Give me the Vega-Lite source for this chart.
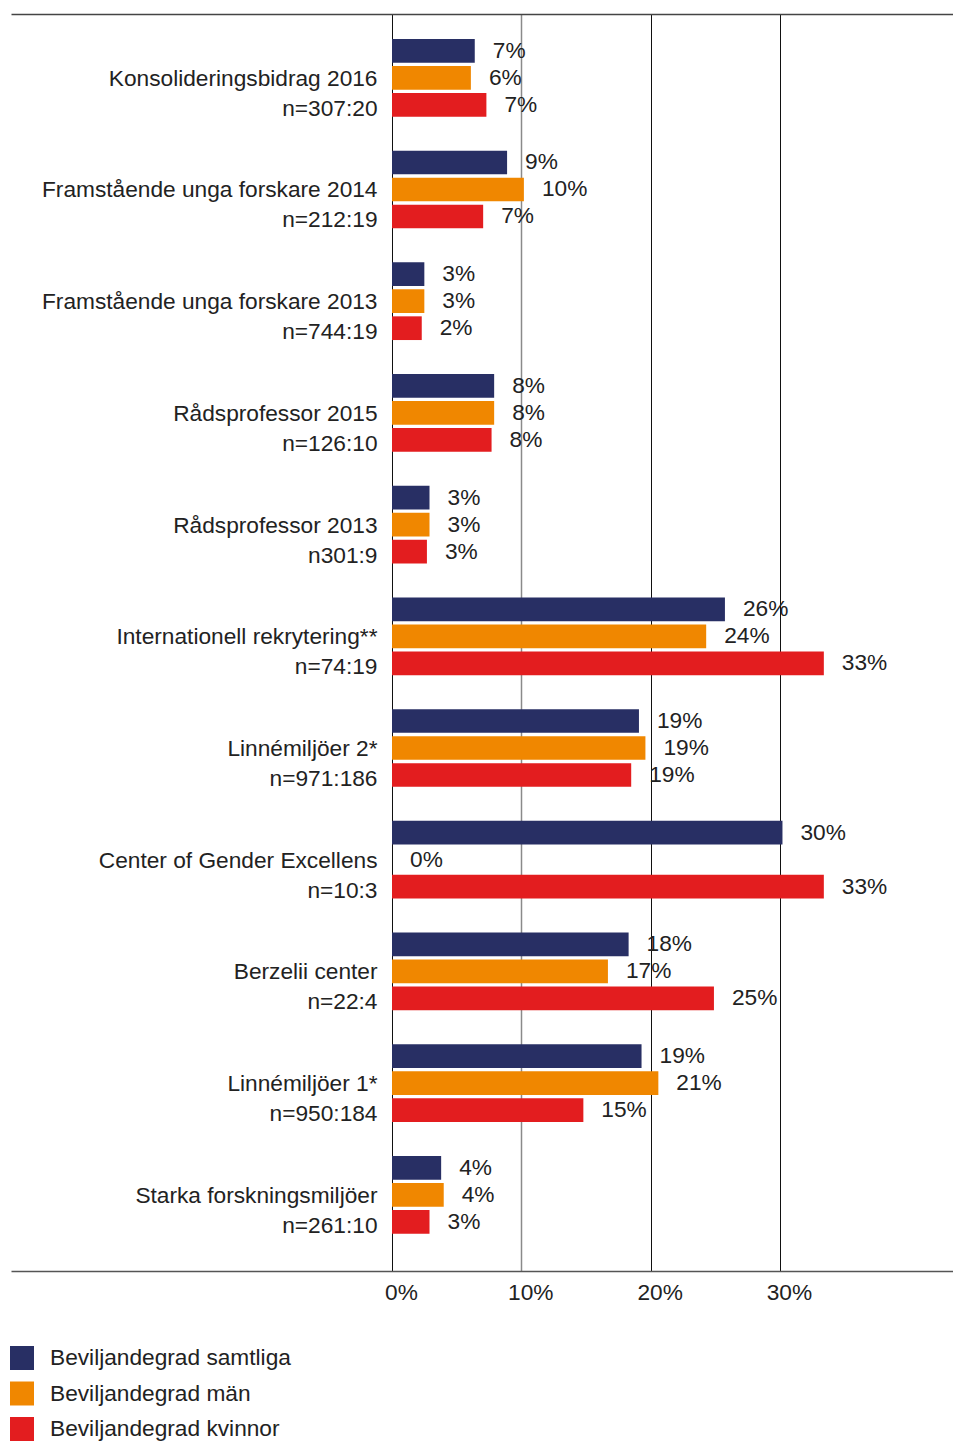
{
  "$schema": "https://vega.github.io/schema/vega-lite/v6.json",
  "width": 942,
  "height": 1257,
  "autosize": {"type": "none"},
  "padding": {"left": 11, "top": 14, "right": 0, "bottom": 170},
  "background": "white",
  "config": {
    "view": {"stroke": null},
    "font": "Liberation Sans",
    "text": {"font": "Liberation Sans"}
  },
  "data": {
    "values": [
      {"cat": "Konsolideringsbidrag 2016|n=307:20", "series": "Beviljandegrad samtliga", "value": 6.4, "label": "7%"},
      {"cat": "Konsolideringsbidrag 2016|n=307:20", "series": "Beviljandegrad män", "value": 6.1, "label": "6%"},
      {"cat": "Konsolideringsbidrag 2016|n=307:20", "series": "Beviljandegrad kvinnor", "value": 7.3, "label": "7%"},
      {"cat": "Framstående unga forskare 2014|n=212:19", "series": "Beviljandegrad samtliga", "value": 8.9, "label": "9%"},
      {"cat": "Framstående unga forskare 2014|n=212:19", "series": "Beviljandegrad män", "value": 10.2, "label": "10%"},
      {"cat": "Framstående unga forskare 2014|n=212:19", "series": "Beviljandegrad kvinnor", "value": 7.05, "label": "7%"},
      {"cat": "Framstående unga forskare 2013|n=744:19", "series": "Beviljandegrad samtliga", "value": 2.5, "label": "3%"},
      {"cat": "Framstående unga forskare 2013|n=744:19", "series": "Beviljandegrad män", "value": 2.5, "label": "3%"},
      {"cat": "Framstående unga forskare 2013|n=744:19", "series": "Beviljandegrad kvinnor", "value": 2.3, "label": "2%"},
      {"cat": "Rådsprofessor 2015|n=126:10", "series": "Beviljandegrad samtliga", "value": 7.9, "label": "8%"},
      {"cat": "Rådsprofessor 2015|n=126:10", "series": "Beviljandegrad män", "value": 7.9, "label": "8%"},
      {"cat": "Rådsprofessor 2015|n=126:10", "series": "Beviljandegrad kvinnor", "value": 7.7, "label": "8%"},
      {"cat": "Rådsprofessor 2013|n301:9", "series": "Beviljandegrad samtliga", "value": 2.9, "label": "3%"},
      {"cat": "Rådsprofessor 2013|n301:9", "series": "Beviljandegrad män", "value": 2.9, "label": "3%"},
      {"cat": "Rådsprofessor 2013|n301:9", "series": "Beviljandegrad kvinnor", "value": 2.7, "label": "3%"},
      {"cat": "Internationell rekrytering**|n=74:19", "series": "Beviljandegrad samtliga", "value": 25.75, "label": "26%"},
      {"cat": "Internationell rekrytering**|n=74:19", "series": "Beviljandegrad män", "value": 24.3, "label": "24%"},
      {"cat": "Internationell rekrytering**|n=74:19", "series": "Beviljandegrad kvinnor", "value": 33.4, "label": "33%"},
      {"cat": "Linnémiljöer 2*|n=971:186", "series": "Beviljandegrad samtliga", "value": 19.1, "label": "19%"},
      {"cat": "Linnémiljöer 2*|n=971:186", "series": "Beviljandegrad män", "value": 19.6, "label": "19%"},
      {"cat": "Linnémiljöer 2*|n=971:186", "series": "Beviljandegrad kvinnor", "value": 18.5, "label": "19%"},
      {"cat": "Center of Gender Excellens|n=10:3", "series": "Beviljandegrad samtliga", "value": 30.2, "label": "30%"},
      {"cat": "Center of Gender Excellens|n=10:3", "series": "Beviljandegrad män", "value": 0, "label": "0%"},
      {"cat": "Center of Gender Excellens|n=10:3", "series": "Beviljandegrad kvinnor", "value": 33.4, "label": "33%"},
      {"cat": "Berzelii center|n=22:4", "series": "Beviljandegrad samtliga", "value": 18.3, "label": "18%"},
      {"cat": "Berzelii center|n=22:4", "series": "Beviljandegrad män", "value": 16.7, "label": "17%"},
      {"cat": "Berzelii center|n=22:4", "series": "Beviljandegrad kvinnor", "value": 24.9, "label": "25%"},
      {"cat": "Linnémiljöer 1*|n=950:184", "series": "Beviljandegrad samtliga", "value": 19.3, "label": "19%"},
      {"cat": "Linnémiljöer 1*|n=950:184", "series": "Beviljandegrad män", "value": 20.6, "label": "21%"},
      {"cat": "Linnémiljöer 1*|n=950:184", "series": "Beviljandegrad kvinnor", "value": 14.8, "label": "15%"},
      {"cat": "Starka forskningsmiljöer|n=261:10", "series": "Beviljandegrad samtliga", "value": 3.8, "label": "4%"},
      {"cat": "Starka forskningsmiljöer|n=261:10", "series": "Beviljandegrad män", "value": 4.0, "label": "4%"},
      {"cat": "Starka forskningsmiljöer|n=261:10", "series": "Beviljandegrad kvinnor", "value": 2.9, "label": "3%"}
    ]
  },
  "encoding": {
    "y": {
      "field": "cat",
      "type": "nominal",
      "sort": null,
      "scale": {"paddingInner": 0.275, "paddingOuter": 0.264, "align": 0.395},
      "axis": {
        "title": null,
        "offset": -381,
        "domain": false,
        "ticks": false,
        "grid": false,
        "labelPadding": 15,
        "labelFontSize": 22.7,
        "labelColor": "#222222",
        "labelLimit": 500,
        "labelAlign": "right",
        "labelBaseline": "middle",
        "labelLineHeight": 30,
        "labelOffset": 1,
        "labelExpr": "split(datum.label, '|')"
      }
    },
    "yOffset": {
      "field": "series",
      "type": "nominal",
      "scale": {
        "domain": ["Beviljandegrad samtliga", "Beviljandegrad män", "Beviljandegrad kvinnor"],
        "paddingInner": 0.122,
        "paddingOuter": 0.061
      }
    }
  },
  "layer": [
    {
      "mark": {"type": "bar"},
      "encoding": {
        "x": {
          "field": "value",
          "type": "quantitative",
          "scale": {"domain": [-29.47, 43.39], "nice": false},
          "axis": {
            "title": null,
            "orient": "bottom",
            "values": [0, 10, 20, 30],
            "labelExpr": "datum.value + '%'",
            "labelFontSize": 22.7,
            "labelColor": "#222222",
            "labelOffset": 9,
            "labelPadding": 10,
            "ticks": false,
            "domain": true,
            "domainColor": "#555555",
            "domainWidth": 1.5,
            "grid": true,
            "gridColor": {"condition": {"test": "datum.value == 10", "value": "#8a8a8a"}, "value": "#111111"},
            "gridWidth": {"condition": {"test": "datum.value == 10", "value": 1.5}, "value": 1},
            "gridOpacity": 1
          }
        },
        "color": {
          "field": "series",
          "type": "nominal",
          "scale": {
            "domain": ["Beviljandegrad samtliga", "Beviljandegrad män", "Beviljandegrad kvinnor"],
            "range": ["#282F64", "#F08700", "#E31D1F"]
          },
          "legend": {
            "title": null,
            "orient": "none",
            "legendX": -1,
            "legendY": 1332,
            "direction": "vertical",
            "symbolType": "square",
            "symbolSize": 576,
            "symbolStrokeWidth": 0,
            "symbolOpacity": 1,
            "labelFontSize": 22.7,
            "labelColor": "#222222",
            "labelOffset": 16,
            "labelLimit": 500,
            "rowPadding": 11.5
          }
        }
      }
    },
    {
      "mark": {"type": "text", "align": "left", "baseline": "middle", "dx": 18, "fontSize": 22.7, "color": "#222222"},
      "encoding": {
        "x": {
          "field": "value",
          "type": "quantitative",
          "axis": {
            "orient": "top",
            "title": null,
            "labels": false,
            "ticks": false,
            "grid": false,
            "domain": true,
            "domainColor": "#444444",
            "domainWidth": 1.5
          }
        },
        "text": {"field": "label"}
      }
    }
  ],
  "resolve": {"axis": {"x": "independent"}}
}
